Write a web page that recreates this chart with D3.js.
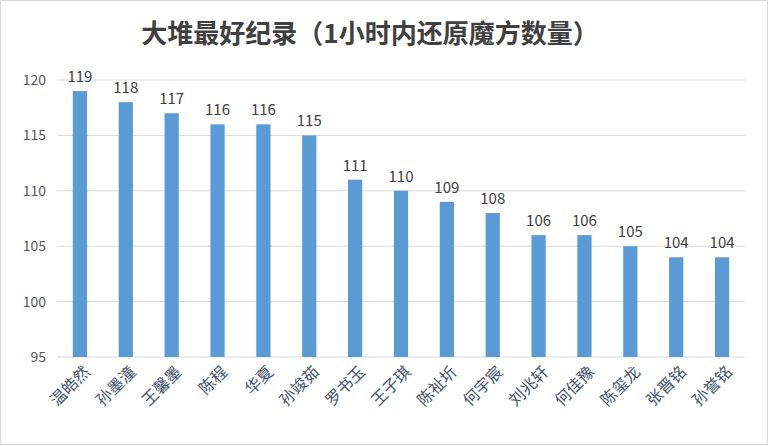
<!DOCTYPE html><html><head><meta charset="utf-8"><script src="https://cdn.jsdelivr.net/npm/d3@7"></script>
<style>body{margin:0;background:#fff}</style></head><body><svg id="c" width="768" height="445"></svg><script>
const names=["温皓然","孙墨潼","王馨墨","陈程","华夏","孙竣茹","罗书玉","王子琪","陈祉圻","何宇宸","刘兆轩","何佳豫","陈玺龙","张晋铭","孙誉铭"];
const values=[119,118,117,116,116,115,111,110,109,108,106,106,105,104,104];
const ticks=[95,100,105,110,115,120];
const svg=d3.select("#c");
svg.append("rect").attr("x",0.5).attr("y",0.5).attr("width",767).attr("height",444).attr("fill","#fff").attr("stroke","#d9d9d9");
const m={l:57,r:745,t:80,b:357};
const x=d3.scaleBand().domain(names).range([m.l,m.r]).paddingInner(0.69).paddingOuter(0.345);
const y=d3.scaleLinear().domain([95,120]).range([m.b,m.t]);
const f="'Noto Sans CJK SC','Noto Sans',sans-serif";
svg.append("g").selectAll("line").data(ticks).join("line").attr("x1",m.l).attr("x2",m.r).attr("y1",d=>y(d)).attr("y2",d=>y(d)).attr("stroke","#d9d9d9");
svg.append("g").selectAll("text").data(ticks).join("text").attr("x",46).attr("y",d=>y(d)+5).attr("text-anchor","end").attr("font-family",f).attr("font-size",14).attr("fill","#595959").text(d=>d);
svg.append("g").selectAll("rect").data(values).join("rect").attr("x",(d,i)=>x(names[i])).attr("width",x.bandwidth()).attr("y",d=>y(d)).attr("height",d=>y(95)-y(d)).attr("fill","#5b9bd5");
svg.append("g").selectAll("text").data(values).join("text").attr("x",(d,i)=>x(names[i])+x.bandwidth()/2).attr("y",d=>y(d)-9).attr("text-anchor","middle").attr("font-family",f).attr("font-size",15).attr("fill","#404040").text(d=>d);
svg.append("g").selectAll("text").data(names).join("text").attr("transform",d=>`translate(${x(d)+x.bandwidth()/2+7},${m.b+12}) rotate(-45)`).attr("text-anchor","end").attr("dy","0.35em").attr("font-family",f).attr("font-size",16).attr("fill","#44546a").text(d=>d);
svg.append("text").attr("x",370).attr("y",43).attr("text-anchor","middle").attr("font-family",f).attr("font-size",26).attr("font-weight","bold").attr("fill","#404040").text("大堆最好纪录（1小时内还原魔方数量）");
</script></body></html>
